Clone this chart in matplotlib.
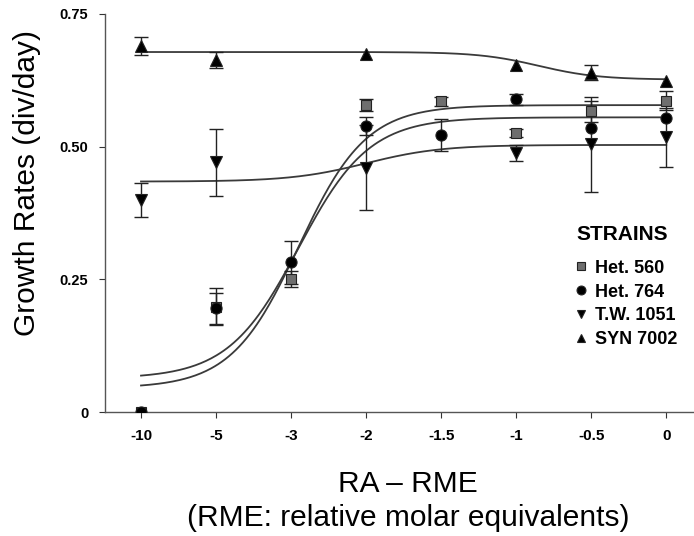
import numpy as np
import matplotlib
matplotlib.use("Agg")
import matplotlib.pyplot as plt
from matplotlib.lines import Line2D

plt.rcParams['font.family'] = ['Liberation Sans', 'DejaVu Sans']

# x categories (equally spaced on the axis)
ra_labels = ['-10', '-5', '-3', '-2', '-1.5', '-1', '-0.5', '0']

# growth rates (div/day), nan = no point shown
het560 = [0.0, 0.198, 0.250, 0.578, 0.585, 0.525, 0.566, 0.586]
het560_err = [0.0, 0.035, 0.015, 0.012, 0.008, 0.008, 0.020, 0.018]
het764 = [0.0, 0.195, 0.282, 0.538, 0.522, 0.589, 0.534, 0.553]
het764_err = [0.0, 0.030, 0.040, 0.017, 0.030, 0.010, 0.0, 0.0]
tw1051 = [0.400, 0.470, np.nan, 0.460, np.nan, 0.487, 0.504, 0.517]
tw1051_err = [0.032, 0.063, 0.0, 0.080, 0.0, 0.015, 0.089, 0.056]
syn7002 = [0.690, 0.663, np.nan, 0.675, np.nan, 0.654, 0.639, 0.624]
syn7002_err = [0.017, 0.015, 0.0, 0.0, 0.0, 0.0, 0.014, 0.0]

# fitted sigmoid curves (low, high, midpoint, width) in category-index units
fit_het560 = (0.045, 0.578, 2.1, 0.45)
fit_het764 = (0.063, 0.555, 2.1, 0.47)
fit_tw1051 = (0.434, 0.503, 3.0, 0.50)
fit_syn7002 = (0.626, 0.678, 5.3, 0.40)


def sigmoid(x, p, rising=True):
    lo, hi, x0, w = p
    if rising:
        return lo + (hi - lo) / (1 + np.exp(-(x - x0) / w))
    return lo + (hi - lo) / (1 + np.exp((x - x0) / w))


fig = plt.figure(figsize=(6.94, 5.36), dpi=100)
ax = fig.add_axes([0.1513, 0.2313, 0.8487, 0.7430])

xi = np.arange(len(ra_labels))
xs = np.linspace(0, len(ra_labels) - 1, 300)

curve_kw = dict(color='#3a3a3a', lw=1.3, zorder=2)
ax.plot(xs, sigmoid(xs, fit_het560), **curve_kw)
ax.plot(xs, sigmoid(xs, fit_het764), **curve_kw)
ax.plot(xs, sigmoid(xs, fit_tw1051), **curve_kw)
ax.plot(xs, sigmoid(xs, fit_syn7002, rising=False), **curve_kw)

series = [
    (het560, het560_err, 's', 7.5, '#6e6e6e', 'Het. 560'),
    (het764, het764_err, 'o', 8, 'black', 'Het. 764'),
    (tw1051, tw1051_err, 'v', 8, 'black', 'T.W. 1051'),
    (syn7002, syn7002_err, '^', 8, 'black', 'SYN 7002'),
]

handles = []
for vals, errs, mk, ms, fc, name in series:
    vals = np.array(vals)
    errs = np.array(errs)
    m = errs > 0
    ax.errorbar(xi[m], vals[m], yerr=errs[m], fmt='none', ecolor='#222222',
                elinewidth=1.0, capsize=5, capthick=1.0, zorder=3)
    ax.plot(xi, vals, linestyle='none', marker=mk, ms=ms, mfc=fc,
            mec='#222222', mew=0.8, zorder=4)
    handles.append(Line2D([], [], linestyle='none', marker=mk,
                          ms=ms * 0.8, mfc=fc, mec='#222222', mew=0.8,
                          label=name))

ax.set_xlim(-0.48, 7.37)
ax.set_ylim(0, 0.75)
ax.set_xticks(xi)
ax.set_xticklabels(ra_labels, fontsize=11, fontweight='bold')
ax.set_yticks([0, 0.25, 0.5, 0.75])
ax.set_yticklabels(['0', '0.25', '0.50', '0.75'], fontsize=10.5,
                   fontweight='bold')
ax.tick_params(axis='both', direction='out', length=4, width=0.8,
               colors='#333333', labelcolor='black')
ax.tick_params(axis='x', pad=8)
ax.tick_params(axis='y', pad=8)

for s in ['top', 'right']:
    ax.spines[s].set_visible(False)
for s in ['left', 'bottom']:
    ax.spines[s].set_color('#555555')
    ax.spines[s].set_linewidth(1.0)

ax.set_ylabel('Growth Rates (div/day)', fontsize=21.5)
ax.yaxis.set_label_coords(-0.108, 0.575)
fig.text(0.588, 0.097, 'RA \u2013 RME', fontsize=21.5, ha='center',
         va='center')
fig.text(0.588, 0.033, '(RME: relative molar equivalents)', fontsize=21.5,
         ha='center', va='center')

ax.text(0.800, 0.445, 'STRAINS', transform=ax.transAxes, fontsize=15,
        fontweight='bold', ha='left', va='center')
leg = ax.legend(handles=handles, loc='upper left',
                bbox_to_anchor=(0.78, 0.405), frameon=False,
                prop={'size': 13, 'weight': 'bold'}, handlelength=0.8,
                handletextpad=0.4, labelspacing=0.38, borderpad=0)

fig.savefig('out.png', dpi=100)
